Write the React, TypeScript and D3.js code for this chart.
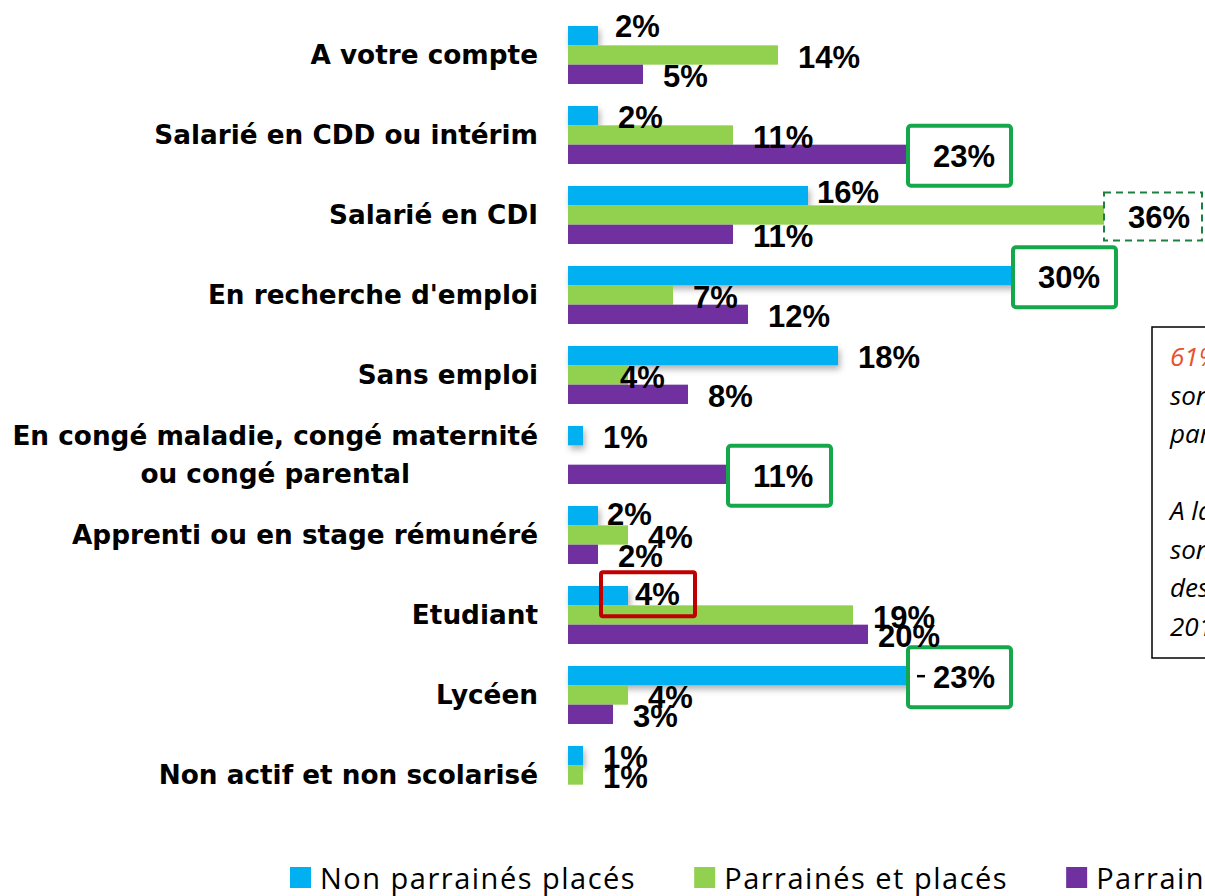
import React, { useEffect, useRef } from "react";
import * as d3 from "d3";

// categories, top to bottom
const categories = [
  "A votre compte",
  "Salarié en CDD ou intérim",
  "Salarié en CDI",
  "En recherche d'emploi",
  "Sans emploi",
  "En congé maladie, congé maternité\nou congé parental",
  "Apprenti ou en stage rémunéré",
  "Etudiant",
  "Lycéen",
  "Non actif et non scolarisé",
];

const seriesNames = ["Non parrainés placés", "Parrainés et placés", "Parrainés non placés"];
const seriesColors = ["#00B0F0", "#92D050", "#7030A0"];

// values in %, null = no bar
const nonParraines = [2, 2, 16, 30, 18, 1, 2, 4, 23, 1];
const parrainesPlaces = [14, 11, 36, 7, 4, null, 4, 19, 4, 1];
const parrainesNonPlaces = [5, 23, 11, 12, 8, 11, 2, 20, 3, null];

// label nudges [row, series, dx, dy] where the original labels sit off their default spot
const labelNudges = [
  [0, 0, -3, -11],
  [2, 0, -11, -5],
  [4, 1, -28, 0],
  [6, 0, -11, -3],
  [7, 0, -13, -3],
  [7, 2, -10, 0],
];

// highlighted labels
const highlights = [
  { row: 1, s: 2, kind: "green" },
  { row: 3, s: 0, kind: "green" },
  { row: 5, s: 2, kind: "green" },
  { row: 8, s: 0, kind: "green" },
  { row: 7, s: 0, kind: "red" },
  { row: 2, s: 1, kind: "dashed" },
];

const noteLines = [
  { text: "61% des jeunes parrainés", color: "#E8532B" },
  { text: "sont en emploi à l'issue du", color: "#000" },
  { text: "parrainage", color: "#000" },
  { text: "", color: "#000" },
  { text: "A la fin du parrainage, ils", color: "#000" },
  { text: "sont 26% en emploi (source :", color: "#000" },
  { text: "des parrainages terminés en", color: "#000" },
  { text: "2013)", color: "#000" },
];

export default function App() {
  const ref = useRef<SVGSVGElement>(null);

  useEffect(() => {
    const svg = d3.select(ref.current);
    svg.selectAll("*").remove();

    const series = [nonParraines, parrainesPlaces, parrainesNonPlaces];

    const x = d3.scaleLinear().domain([0, 36]).range([568, 1108]);
    const y = d3
      .scaleBand<number>()
      .domain(d3.range(categories.length))
      .range([15, 815])
      .paddingInner(0.275)
      .paddingOuter(0.1375);
    const ys = d3.scaleBand<number>().domain([0, 1, 2]).range([0, y.bandwidth()]);

    const defs = svg.append("defs");
    defs
      .append("filter")
      .attr("id", "shadow")
      .attr("x", "-5%")
      .attr("y", "-30%")
      .attr("width", "115%")
      .attr("height", "190%")
      .append("feDropShadow")
      .attr("dx", 2)
      .attr("dy", 4)
      .attr("stdDeviation", 3)
      .attr("flood-color", "#000")
      .attr("flood-opacity", 0.3);

    // category labels
    const catG = svg.append("g");
    categories.forEach((c, i) => {
      const lines = c.split("\n");
      const cy = y(i)! + y.bandwidth() / 2;
      const t = catG
        .append("text")
        .attr("font-family", "DejaVu Sans")
        .attr("font-weight", "bold")
        .attr("font-size", 26.3)
        .attr("fill", "#000");
      if (lines.length === 1) {
        t.attr("x", 538).attr("y", cy).attr("dy", "0.36em").attr("text-anchor", "end").text(c);
      } else {
        // measure first line to centre both lines under it
        const tmp = t.append("tspan").text(lines[0]);
        const w = (tmp.node() as SVGTSpanElement).getComputedTextLength();
        tmp.remove();
        const cx = 538 - w / 2;
        t.attr("text-anchor", "middle");
        lines.forEach((l, k) => {
          t.append("tspan")
            .attr("x", cx)
            .attr("y", cy + (k - (lines.length - 1) / 2) * 38)
            .attr("dy", "0.36em")
            .text(l);
        });
      }
    });

    // bars
    series.forEach((vals, s) => {
      svg
        .append("g")
        .attr("filter", s === 0 ? "url(#shadow)" : null)
        .selectAll("rect")
        .data(vals.map((v, i) => ({ v, i })).filter((d) => d.v !== null))
        .join("rect")
        .attr("x", x(0))
        .attr("y", (d) => y(d.i)! + ys(s)!)
        .attr("width", (d) => x(d.v as number) - x(0))
        .attr("height", ys.bandwidth())
        .attr("fill", seriesColors[s]);
    });

    const labelPos = (row: number, s: number) => {
      const v = series[s][row] as number;
      const n = labelNudges.find((d) => d[0] === row && d[1] === s);
      return {
        lx: x(v) + 20 + (n ? n[2] : 0),
        ly: y(row)! + ys(s)! + ys.bandwidth() / 2 + 1.5 + (n ? n[3] : 0),
      };
    };

    // highlight boxes (under the labels)
    const boxG = svg.append("g");
    highlights.forEach((h) => {
      const { lx, ly } = labelPos(h.row, h.s);
      if (h.kind === "green") {
        boxG
          .append("rect")
          .attr("x", lx - 25)
          .attr("y", ly - 30)
          .attr("width", 103)
          .attr("height", 60)
          .attr("rx", 3)
          .attr("fill", "#fff")
          .attr("stroke", "#14A84A")
          .attr("stroke-width", 4);
      } else if (h.kind === "red") {
        boxG
          .append("rect")
          .attr("x", lx - 34)
          .attr("y", ly - 22)
          .attr("width", 94)
          .attr("height", 44)
          .attr("rx", 2)
          .attr("fill", "none")
          .attr("stroke", "#C00000")
          .attr("stroke-width", 4);
      } else {
        boxG
          .append("rect")
          .attr("x", lx - 24)
          .attr("y", ly - 24)
          .attr("width", 98)
          .attr("height", 48)
          .attr("fill", "#fff")
          .attr("stroke", "#1E7F3E")
          .attr("stroke-width", 2)
          .attr("stroke-dasharray", "7,5");
      }
    });

    // small leader dash on Lycéen label
    {
      const { lx, ly } = labelPos(8, 0);
      svg
        .append("line")
        .attr("x1", lx - 16)
        .attr("x2", lx - 8)
        .attr("y1", ly - 1)
        .attr("y2", ly - 1)
        .attr("stroke", "#000")
        .attr("stroke-width", 2.5);
    }

    // value labels
    const valG = svg.append("g");
    series.forEach((vals, s) => {
      vals.forEach((v, row) => {
        if (v === null) return;
        const { lx, ly } = labelPos(row, s);
        valG
          .append("text")
          .attr("x", lx)
          .attr("y", ly)
          .attr("dy", "0.36em")
          .attr("font-family", "Liberation Sans, Arial, sans-serif")
          .attr("font-weight", "bold")
          .attr("font-size", 31)
          .attr("fill", "#000")
          .text(`${v}%`);
      });
    });

    // note box on the right (cut by the page edge)
    svg
      .append("rect")
      .attr("x", 1152)
      .attr("y", 327)
      .attr("width", 120)
      .attr("height", 331)
      .attr("fill", "#fff")
      .attr("stroke", "#000")
      .attr("stroke-width", 1.5);
    noteLines.forEach((l, k) => {
      svg
        .append("text")
        .attr("x", 1170)
        .attr("y", 366 + k * 38.5)
        .attr("font-family", "Open Sans, sans-serif")
        .attr("font-style", "italic")
        .attr("font-size", 26)
        .attr("fill", l.color)
        .text(l.text);
    });

    // legend
    const legG = svg.append("g");
    let lxPos = 290;
    seriesNames.forEach((name, s) => {
      legG
        .append("rect")
        .attr("x", lxPos)
        .attr("y", 867)
        .attr("width", 21)
        .attr("height", 21)
        .attr("fill", seriesColors[s]);
      const t = legG
        .append("text")
        .attr("x", lxPos + 30)
        .attr("y", 889)
        .attr("font-family", "Open Sans, sans-serif")
        .attr("font-size", 29)
        .attr("letter-spacing", 1.5)
        .attr("fill", "#000")
        .text(name);
      const w = (t.node() as SVGTextElement).getComputedTextLength();
      lxPos += 30 + w + 58;
    });
  }, []);

  return (
    <div style={{ position: "absolute", left: 0, top: 0 }}>
      <svg ref={ref} width={1205} height={896} style={{ display: "block", background: "#fff" }} />
    </div>
  );
}
